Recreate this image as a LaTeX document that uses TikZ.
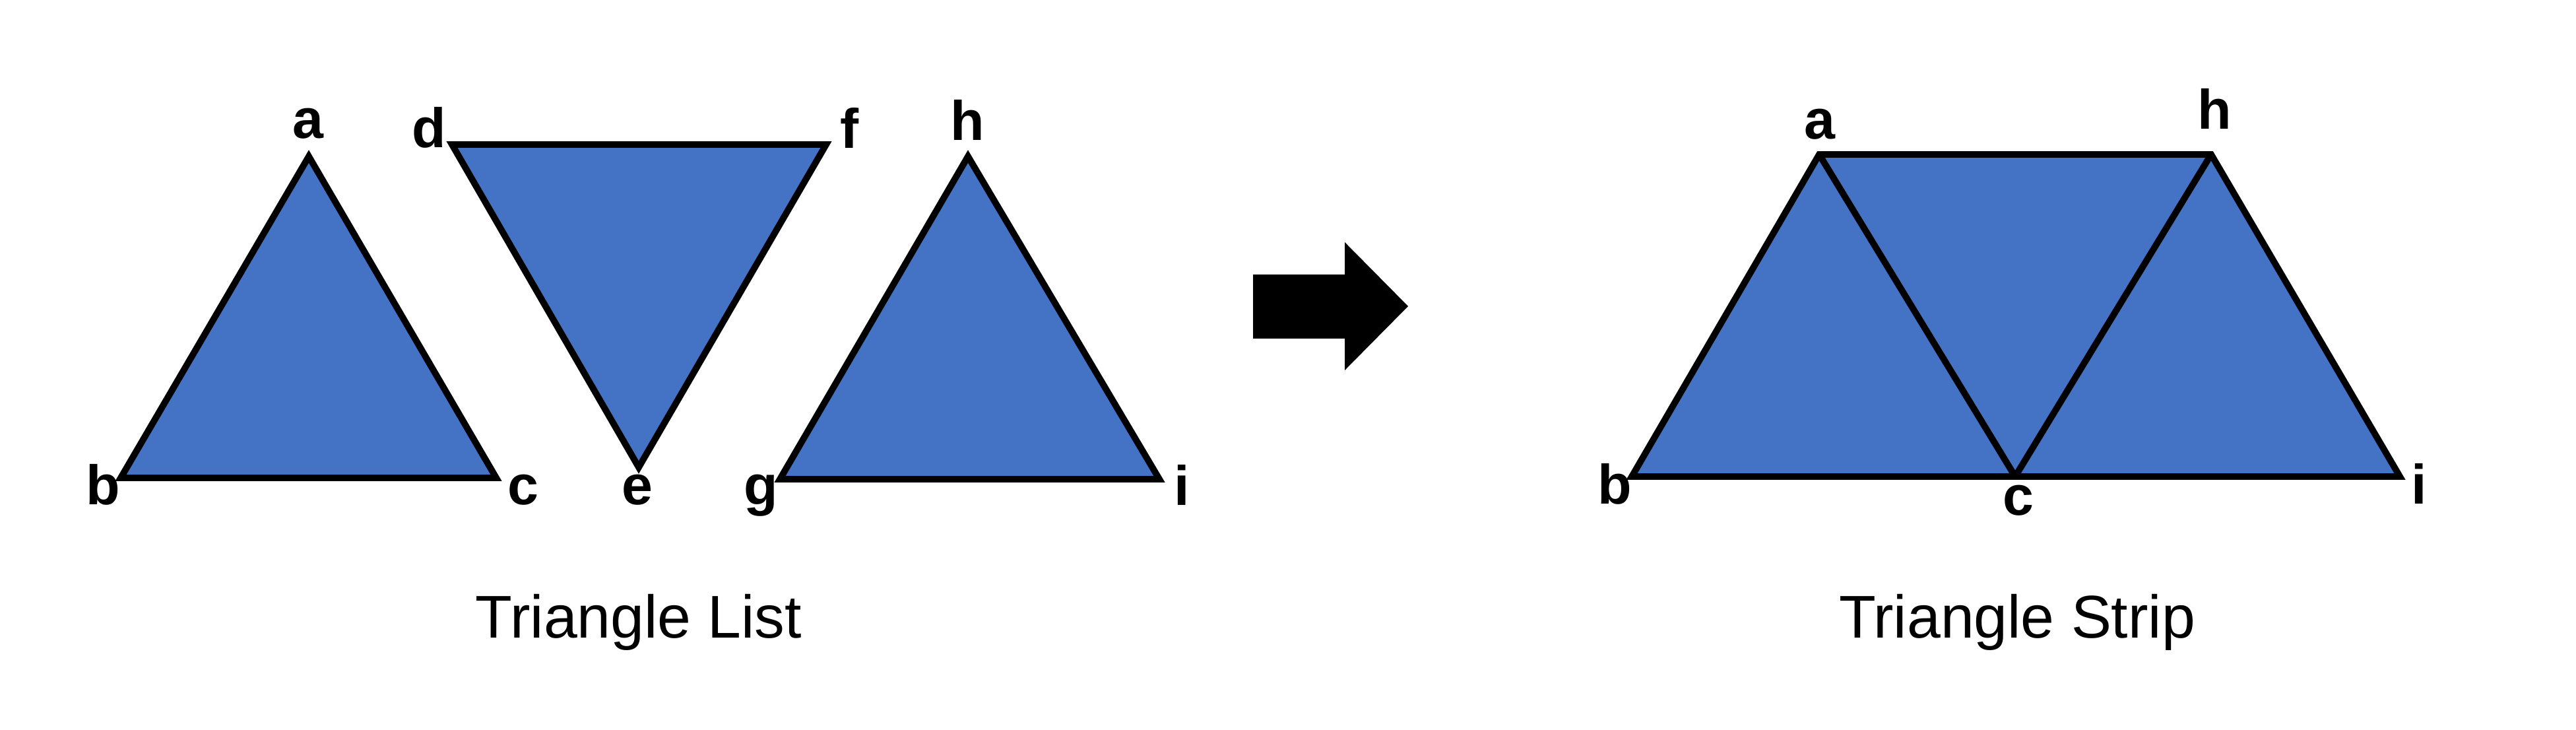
\documentclass[tikz,border=0pt]{standalone}
\usepackage{fontspec}
\setmainfont{Liberation Sans}
\usepackage{tikz}
\definecolor{triblue}{HTML}{4472C4}

\begin{document}
\begin{tikzpicture}[
  tri/.style={draw=black,fill=triblue,line width=2.8pt},
  vlabel/.style={anchor=base,inner sep=0pt,font=\fontsize{24}{28}\selectfont\bfseries},
  caption/.style={anchor=base,inner sep=0pt,font=\fontsize{26}{31}\selectfont}]
  \useasboundingbox (0,0) rectangle (39.04,11.06);
  % triangle list
  \coordinate (a) at (4.68,8.69);
  \coordinate (b) at (1.83,3.82);
  \coordinate (c) at (7.52,3.82);
  \coordinate (d) at (6.85,8.87);
  \coordinate (e) at (9.68,3.98);
  \coordinate (f) at (12.52,8.87);
  \coordinate (g) at (11.82,3.80);
  \coordinate (h) at (14.67,8.69);
  \coordinate (i) at (17.57,3.80);
  \draw[tri] (a) -- (b) -- (c) -- cycle;
  \draw[tri] (d) -- (f) -- (e) -- cycle;
  \draw[tri] (h) -- (g) -- (i) -- cycle;
  \node[vlabel] (la) at (4.67,8.96) {a};
  \node[vlabel] (lb) at (1.56,3.41) {b};
  \node[vlabel] (lc) at (7.93,3.41) {c};
  \node[vlabel] (ld) at (6.50,8.82) {d};
  \node[vlabel] (le) at (9.66,3.41) {e};
  \node[vlabel] (lf) at (12.88,8.81) {f};
  \node[vlabel] (lg) at (11.53,3.41) {g};
  \node[vlabel] (lh) at (14.66,8.93) {h};
  \node[vlabel] (li) at (17.91,3.40) {i};
  \node[caption] (listcap) at (9.68,1.39) {Triangle List};
  % arrow
  \fill[black] (18.99,6.90) -- (20.38,6.90) -- (20.38,7.39) -- (21.34,6.42)
    -- (20.38,5.45) -- (20.38,5.93) -- (18.99,5.93) -- cycle;
  % triangle strip
  \coordinate (sa) at (27.57,8.72);
  \coordinate (sh) at (33.51,8.72);
  \coordinate (sb) at (24.73,3.84);
  \coordinate (sc) at (30.54,3.84);
  \coordinate (si) at (36.37,3.84);
  \draw[tri] (sa) -- (sh) -- (si) -- (sb) -- cycle;
  \draw[tri,fill=none,line join=bevel] (sa) -- (sc) -- (sh);
  \node[vlabel] (ta) at (27.58,8.95) {a};
  \node[vlabel] (th) at (33.56,9.10) {h};
  \node[vlabel] (tb) at (24.47,3.42) {b};
  \node[vlabel] (tc) at (30.59,3.25) {c};
  \node[vlabel] (ti) at (36.66,3.42) {i};
  \node[caption] (stripcap) at (30.57,1.39) {Triangle Strip};
\end{tikzpicture}
\end{document}
